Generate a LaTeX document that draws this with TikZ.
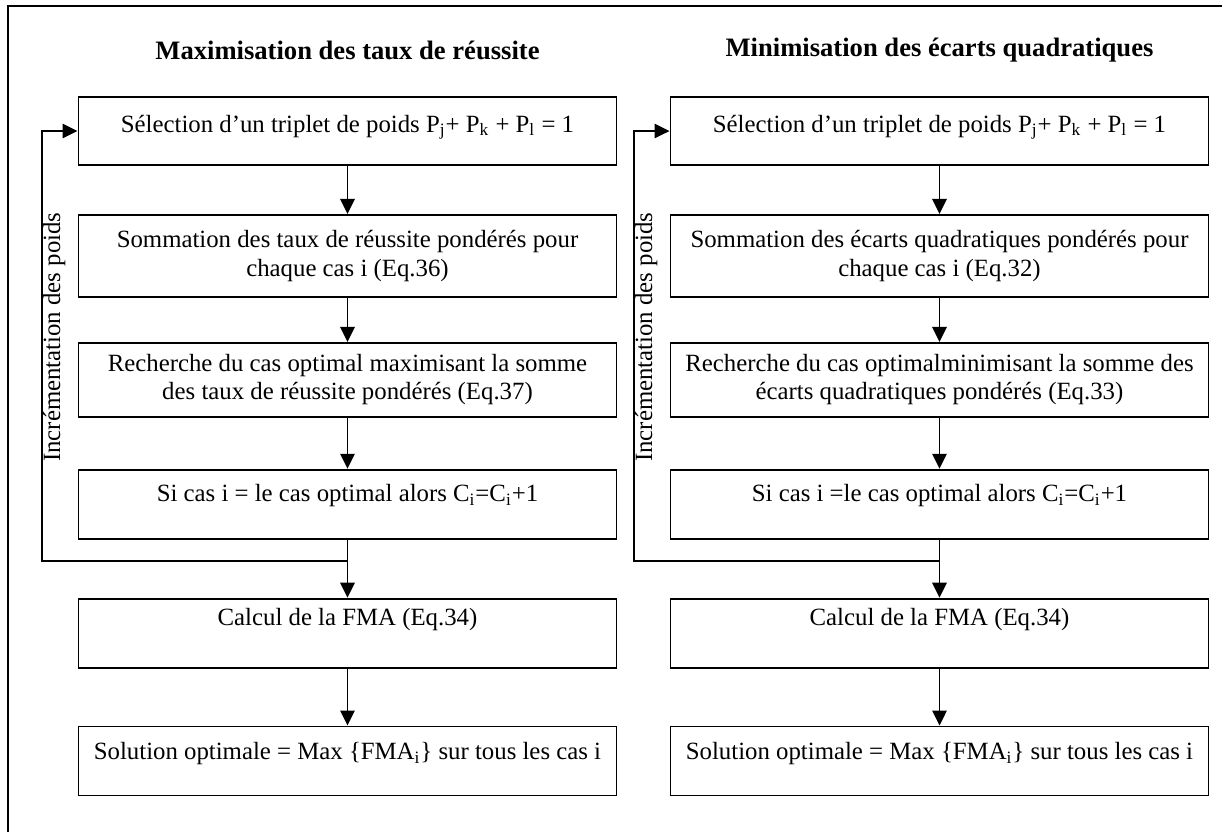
\documentclass[tikz,border=0pt]{standalone}
\usepackage{fontspec}
\setmainfont{Liberation Serif}
\usetikzlibrary{arrows.meta,positioning,calc}
\tikzset{b/.style={draw,line width=0.95pt,align=center,minimum width=269pt,inner sep=2pt,font=\fontsize{12.4}{14.2}\selectfont},
 b1/.style={b,text height=8.6pt},
 t/.style={font=\fontsize{13.3}{15}\selectfont\bfseries},
 ar/.style={line width=0.95pt,-{Triangle[length=7.5pt,width=7.2pt]}},
 lb/.style={rotate=90,anchor=north,inner sep=0.5pt,font=\fontsize{12.4}{14.2}\selectfont}}

\begin{document}
\begin{tikzpicture}[x=1pt,y=1pt]
\useasboundingbox (0,0) rectangle (611,-416);
\draw[line width=1pt] (4,-416) |- (611,-3);
% maximisation
\node[t](tl) at (173.75,-25){Maximisation des taux de réussite};
\node[b1,minimum height=34pt,text depth=7.6pt](l1) at (173.75,-65.5){Sélection d’un triplet de poids P\textsubscript{j}+ P\textsubscript{k} + P\textsubscript{l} = 1};
\node[b,minimum height=41pt,below=24pt of l1](l2){Sommation des taux de réussite pondérés pour\\chaque cas i (Eq.36)};
\node[b,minimum height=37pt,below=22pt of l2](l3){Recherche du cas optimal maximisant la somme\\des taux de réussite pondérés (Eq.37)};
\node[b1,minimum height=34.5pt,text depth=11.1pt,below=25.5pt of l3](l4){Si cas i = le cas optimal alors C\textsubscript{i}=C\textsubscript{i}+1};
\node[b1,minimum height=34.5pt,text depth=16.1pt,below=29pt of l4](l5){Calcul de la FMA (Eq.34)};
\node[b1,minimum height=34.5pt,text depth=10.1pt,below=28.5pt of l5](l6){Solution optimale = Max \{FMA\textsubscript{i}\} sur tous les cas i};
\coordinate[below=10.5pt of l4](lj);\coordinate[left=18pt of l1](lk);
\draw[ar](l1)--(l2);\draw[ar](l2)--(l3);\draw[ar](l3)--(l4);\draw[ar](l4)--(l5);\draw[ar](l5)--(l6);
\draw[ar](lj)-|(lk)--(l1);
\node[lb](il) at ($(lk)!0.48!(lk|-lj)$){Incrémentation des poids};
% minimisation
\node[t](tr) at (469.75,-25){Minimisation des écarts quadratiques};
\node[b1,minimum height=34pt,text depth=7.6pt](r1) at (469.75,-65.5){Sélection d’un triplet de poids P\textsubscript{j}+ P\textsubscript{k} + P\textsubscript{l} = 1};
\node[b,minimum height=41pt,below=24pt of r1](r2){Sommation des écarts quadratiques pondérés pour\\chaque cas i (Eq.32)};
\node[b,minimum height=37pt,below=22pt of r2](r3){Recherche du cas optimalminimisant la somme des\\écarts quadratiques pondérés (Eq.33)};
\node[b1,minimum height=34.5pt,text depth=11.1pt,below=25.5pt of r3](r4){Si cas i =le cas optimal alors C\textsubscript{i}=C\textsubscript{i}+1};
\node[b1,minimum height=34.5pt,text depth=16.1pt,below=29pt of r4](r5){Calcul de la FMA (Eq.34)};
\node[b1,minimum height=34.5pt,text depth=10.1pt,below=28.5pt of r5](r6){Solution optimale = Max \{FMA\textsubscript{i}\} sur tous les cas i};
\coordinate[below=10.5pt of r4](rj);\coordinate[left=18pt of r1](rk);
\draw[ar](r1)--(r2);\draw[ar](r2)--(r3);\draw[ar](r3)--(r4);\draw[ar](r4)--(r5);\draw[ar](r5)--(r6);
\draw[ar](rj)-|(rk)--(r1);
\node[lb](ir) at ($(rk)!0.48!(rk|-rj)$){Incrémentation des poids};
\end{tikzpicture}
\end{document}
